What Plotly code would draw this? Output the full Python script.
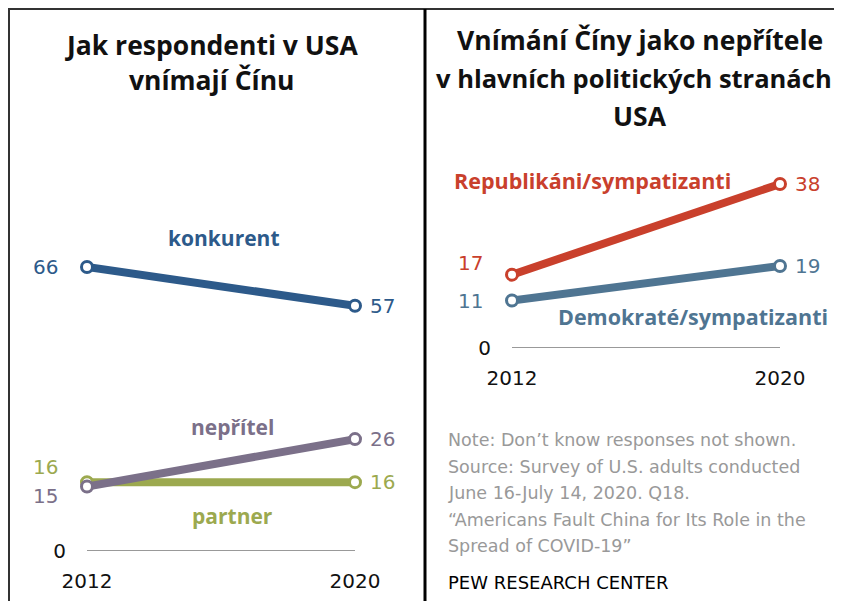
import plotly.graph_objects as go

# page body has an 8px margin, so the figure is drawn 8px smaller and
# positions below are given in screen pixels
W, H = 834, 593
OFF = 8

years = [2012, 2020]
konkurent = [66, 57]
nepritel = [15, 26]
partner = [16, 16]
republikani = [17, 38]
demokrate = [11, 19]

left_title = ["Jak respondenti v USA", "vnímají Čínu"]
right_title = ["Vnímání Číny jako nepřítele", "v hlavních politických stranách", "USA"]
note_lines = [
    "Note: Don\u2019t know responses not shown.",
    "Source: Survey of U.S. adults conducted",
    "June 16-July 14, 2020. Q18.",
    "\u201cAmericans Fault China for Its Role in the",
    "Spread of COVID-19\u201d",
]
source = "PEW RESEARCH CENTER"

c_konk = "#2d5a8a"
c_nep = "#7b7089"
c_part = "#9ca94f"
c_rep = "#c9402c"
c_dem = "#4f7592"

TITLE_FONT = "Open Sans"
NUM_FONT = "DejaVu Sans"

# ~4.3 px per point, 0 line at y=551 (left) / 348 (right)
L_TOP = 80
R_TOP = 45


def px_x(p):
    return (p - OFF) / W


def px_y(p):
    return 1 - (p - OFF) / H


fig = go.Figure()


def add_line(vals, color, xa, ya):
    fig.add_trace(go.Scatter(
        x=years, y=vals, xaxis=xa, yaxis=ya, mode="lines+markers",
        line=dict(color=color, width=8),
        marker=dict(size=11, color="white", line=dict(color=color, width=3)),
        cliponaxis=False, showlegend=False, hoverinfo="skip",
    ))


add_line(konkurent, c_konk, "x", "y")
add_line(partner, c_part, "x", "y")
add_line(nepritel, c_nep, "x", "y")
add_line(republikani, c_rep, "x2", "y2")
add_line(demokrate, c_dem, "x2", "y2")

axis_common = dict(showgrid=False, zeroline=False, showline=False, automargin=False,
                   tickfont=dict(family=NUM_FONT, size=20, color="#111"))
fig.update_layout(
    xaxis=dict(domain=[px_x(87), px_x(355)], range=[2012, 2020], anchor="y",
               tickvals=years, ticks="outside", ticklen=12, tickcolor="rgba(0,0,0,0)",
               **axis_common),
    yaxis=dict(domain=[px_y(551), px_y(551 - L_TOP * 4.303)], range=[0, L_TOP], anchor="x",
               tickvals=[0], ticks="outside", ticklen=16, tickcolor="rgba(0,0,0,0)",
               **axis_common),
    xaxis2=dict(domain=[px_x(512), px_x(780)], range=[2012, 2020], anchor="y2",
                tickvals=years, ticks="outside", ticklen=12, tickcolor="rgba(0,0,0,0)",
                **axis_common),
    yaxis2=dict(domain=[px_y(348), px_y(348 - R_TOP * 4.316)], range=[0, R_TOP], anchor="x2",
                tickvals=[0], ticks="outside", ticklen=16, tickcolor="rgba(0,0,0,0)",
                **axis_common),
)

# baselines
for xr, yr in [("x", "y"), ("x2", "y2")]:
    fig.add_shape(type="line", xref=xr, yref=yr, x0=years[0], x1=years[1], y0=0, y1=0,
                  line=dict(color="#999999", width=2), layer="below")

ann = []


def val(x, y, text, color, xr, yr, side, yshift=0):
    ann.append(dict(x=x, y=y, xref=xr, yref=yr, text=text, showarrow=False,
                    xanchor="right" if side == "l" else "left",
                    xshift=-27 if side == "l" else 13, yshift=yshift,
                    font=dict(family=NUM_FONT, size=20, color=color)))


val(years[0], konkurent[0], str(konkurent[0]), c_konk, "x", "y", "l")
val(years[1], konkurent[1], str(konkurent[1]), c_konk, "x", "y", "r")
val(years[0], partner[0], str(partner[0]), c_part, "x", "y", "l", 15)
val(years[1], partner[1], str(partner[1]), c_part, "x", "y", "r")
val(years[0], nepritel[0], str(nepritel[0]), c_nep, "x", "y", "l", -10)
val(years[1], nepritel[1], str(nepritel[1]), c_nep, "x", "y", "r")
val(years[0], republikani[0], str(republikani[0]), c_rep, "x2", "y2", "l", 12)
val(years[1], republikani[1], str(republikani[1]), c_rep, "x2", "y2", "r")
val(years[0], demokrate[0], str(demokrate[0]), c_dem, "x2", "y2", "l")
val(years[1], demokrate[1], str(demokrate[1]), c_dem, "x2", "y2", "r")


def series_label(x, y, text, color, xr, yr, size=21):
    ann.append(dict(x=x, y=y, xref=xr, yref=yr, text="<b>" + text + "</b>", showarrow=False,
                    xanchor="center", yanchor="middle",
                    font=dict(family=TITLE_FONT, size=size, color=color)))


series_label(2016.1, 72.8, "konkurent", c_konk, "x", "y")
series_label(2016.33, 28.8, "nepřítel", c_nep, "x", "y")
series_label(2016.33, 8.1, "partner", c_part, "x", "y")
series_label(2014.39, 38.7, "Republikáni/sympatizanti", c_rep, "x2", "y2", 21.5)
series_label(2017.4, 7.2, "Demokraté/sympatizanti", c_dem, "x2", "y2", 21.5)

# titles
for i, t in enumerate(left_title):
    ann.append(dict(x=px_x(211), y=px_y(45 + 35 * i), xref="paper", yref="paper",
                    text="<b>" + t + "</b>", showarrow=False,
                    xanchor="center", yanchor="middle",
                    font=dict(family=TITLE_FONT, size=26.5, color="#111")))
r_cx = [640, 634, 640]
r_size = [26.5, 25.5, 26.5]
for i, t in enumerate(right_title):
    ann.append(dict(x=px_x(r_cx[i]), y=px_y(40 + 38 * i), xref="paper", yref="paper",
                    text="<b>" + t + "</b>", showarrow=False,
                    xanchor="center", yanchor="middle",
                    font=dict(family=TITLE_FONT, size=r_size[i], color="#111")))

for i, t in enumerate(note_lines):
    ann.append(dict(x=px_x(446), y=px_y(440 + 26.5 * i), xref="paper", yref="paper",
                    text=t, showarrow=False, xanchor="left", yanchor="middle",
                    font=dict(family=NUM_FONT, size=17.5, color="#999999")))
ann.append(dict(x=px_x(446), y=px_y(582), xref="paper", yref="paper",
                text=source, showarrow=False, xanchor="left", yanchor="middle",
                font=dict(family=NUM_FONT, size=18, color="#000")))

# frame lines
shapes = [
    dict(type="line", xref="paper", yref="paper", x0=px_x(8), x1=1, y0=px_y(9), y1=px_y(9),
         line=dict(color="#333", width=2)),
    dict(type="line", xref="paper", yref="paper", x0=px_x(9), x1=px_x(9), y0=px_y(9), y1=0,
         line=dict(color="#333", width=2)),
    dict(type="line", xref="paper", yref="paper", x0=px_x(425), x1=px_x(425), y0=px_y(9), y1=0,
         line=dict(color="#000", width=3)),
]
for s in shapes:
    fig.add_shape(**s)

fig.update_layout(
    width=W, height=H, margin=dict(l=0, r=0, t=0, b=0, pad=0),
    paper_bgcolor="white", plot_bgcolor="white",
    annotations=ann,
)

fig.write_html("out.html")
